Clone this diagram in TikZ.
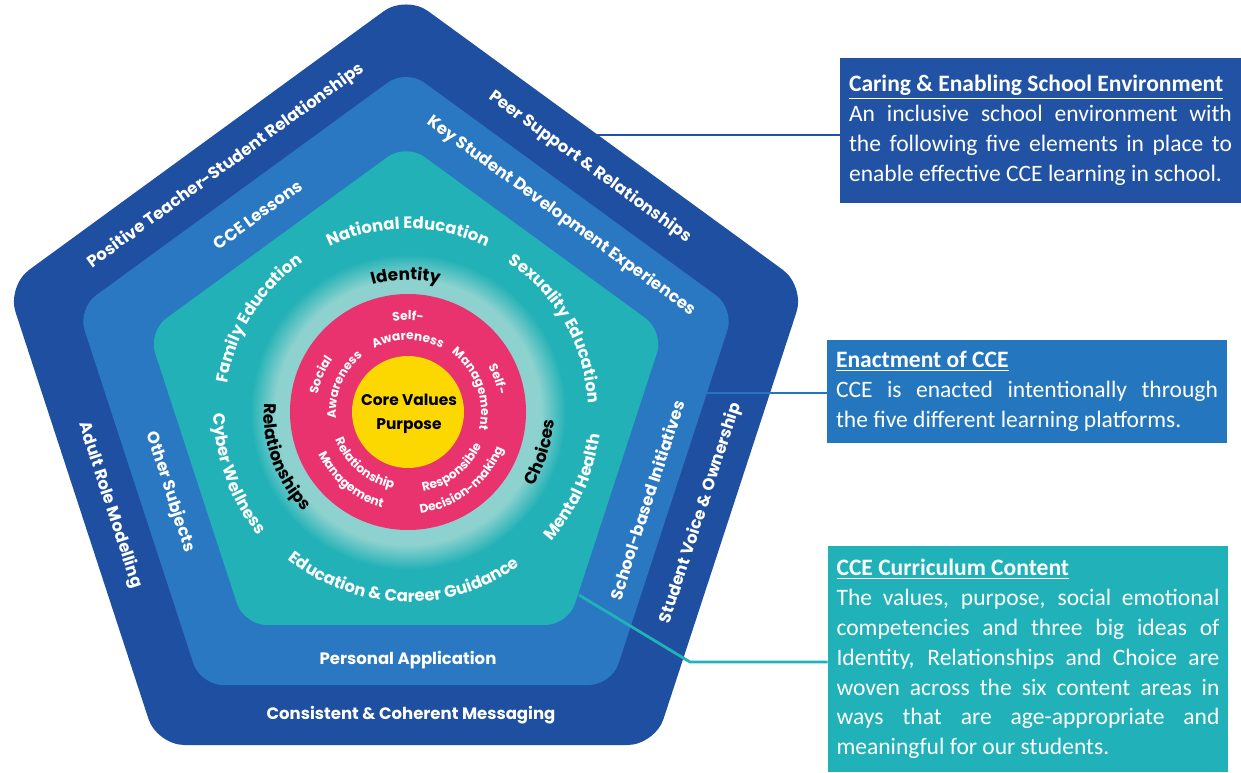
\documentclass[tikz,border=0pt]{standalone}
\usepackage{fontspec}
\setmainfont{Carlito}
\newfontfamily\gothic{Poppins}
\usetikzlibrary{calc,decorations.text}

\definecolor{navyband}{HTML}{1F4FA0}
\definecolor{blueband}{HTML}{2A78C1}
\definecolor{tealband}{HTML}{21B1B6}
\definecolor{mintdisc}{HTML}{8DD2CF}
\definecolor{pinkdisc}{HTML}{E8336E}
\definecolor{golddisc}{HTML}{FCD700}
\definecolor{navybox}{HTML}{2152A3}
\definecolor{bluebox}{HTML}{2477BF}
\definecolor{tealbox}{HTML}{20B2B8}

\pgfdeclareradialshading{mintglow}{\pgfpoint{0bp}{0bp}}{color(0bp)=(mintdisc); color(21bp)=(mintdisc); color(25bp)=(tealband); color(50bp)=(tealband)}

\newcommand\ringwhite{\gothic\bfseries\fontsize{9.4}{11}\selectfont\color{white}}
\newcommand\ringblack{\gothic\bfseries\fontsize{9.6}{11}\selectfont\color{black}}
\newcommand\selwhite{\gothic\bfseries\fontsize{7}{9}\selectfont\color{white}}

\tikzset{
  bandlabel/.style={text=white, inner sep=0pt, font=\gothic\bfseries\fontsize{9.4}{11}\selectfont},
  ringtext/.style={decorate, decoration={text along path, text align=center}},
  infobox/.style={text=white, align=justify, inner xsep=0.18cm, inner ysep=0pt,
    font=\fontsize{13.4}{17}\selectfont},
  tapline/.style={line width=1.6pt},
}

\begin{document}
\begin{tikzpicture}[x=0.02cm, y=0.02cm]
\useasboundingbox (0,0) rectangle (1241,772);

% pentagon layers
\fill[navyband, rounded corners=0.55cm] (406,27) -- (157,27) -- (7,486) -- (406,777) -- (805,486) -- (655,27) -- cycle;
\fill[blueband, rounded corners=0.45cm] (406,87) -- (200.5,87) -- (77.6,463.2) -- (406,702.7) -- (734.4,463.2) -- (611.5,87) -- cycle;
\fill[tealband, rounded corners=0.45cm] (406,147) -- (244,147) -- (148.1,440.4) -- (406,628.5) -- (663.9,440.4) -- (568,147) -- cycle;

% discs
\coordinate (ctr) at (408,360);
\shade[shading=mintglow] (ctr) circle[radius=158];
\fill[pinkdisc] (ctr) circle[radius=118];
\fill[golddisc] (ctr) circle[radius=56];

% outer band
\node[bandlabel, rotate=36] (ptsr) at (226,606) {Positive Teacher-Student Relationships};
\node[bandlabel, rotate=-36] (peer) at (590,605) {Peer Support \& Relationships};
\node[bandlabel, rotate=72] (voice) at (701,259) {Student Voice \& Ownership};
\node[bandlabel] (messaging) at (411,57) {Consistent \& Coherent Messaging};
\node[bandlabel, rotate=-72] (adult) at (110,267) {Adult Role Modelling};

% middle band
\node[bandlabel, rotate=36] (lessons) at (258,557) {CCE Lessons};
\node[bandlabel, rotate=-36] (ksde) at (561,556) {Key Student Development Experiences};
\node[bandlabel, rotate=72] (sbi) at (647,272) {School-based Initiatives};
\node[bandlabel] (application) at (408,112) {Personal Application};
\node[bandlabel, rotate=-72] (subjects) at (170,280) {Other Subjects};

% content areas
\path[ringtext, decoration={text={|\ringwhite|National Education}}] ($(ctr)+(150:183)$) arc[start angle=150, end angle=30, radius=183];
\path[ringtext, decoration={text={|\ringwhite|Sexuality Education}}] ($(ctr)+(89.5:180)$) arc[start angle=89.5, end angle=-30.5, radius=180];
\path[ringtext, decoration={text={|\ringwhite|Mental Health}}] ($(ctr)+(-84.5:193)$) arc[start angle=-84.5, end angle=35.5, radius=193];
\path[ringtext, decoration={text={|\ringwhite|Education {\&} Career Guidance}}] ($(ctr)+(203.5:190)$) arc[start angle=203.5, end angle=333.5, radius=190];
\path[ringtext, decoration={text={|\ringwhite|Cyber Wellness}}] ($(ctr)+(140:194)$) arc[start angle=140, end angle=260, radius=194];
\path[ringtext, decoration={text={|\ringwhite|Family Education}}] ($(ctr)+(208:183)$) arc[start angle=208, end angle=88, radius=183];

% big ideas
\path[ringtext, decoration={text={|\ringblack|Identity}}] ($(ctr)+(151:132)$) arc[start angle=151, end angle=31, radius=132];
\path[ringtext, decoration={text={|\ringblack|Relationships}}] ($(ctr)+(140:144)$) arc[start angle=140, end angle=260, radius=144];
\path[ringtext, decoration={text={|\ringblack|Choices}}] ($(ctr)+(-77:146)$) arc[start angle=-77, end angle=43, radius=146];

% competencies
\path[ringtext, decoration={text={|\selwhite|Self-}}] ($(ctr)+(150:92)$) arc[start angle=150, end angle=30, radius=92];
\path[ringtext, decoration={text={|\selwhite|Awareness}}] ($(ctr)+(160:72)$) arc[start angle=160, end angle=20, radius=72];
\path[ringtext, decoration={text={|\selwhite|Self-}}] ($(ctr)+(80:92)$) arc[start angle=80, end angle=-40, radius=92];
\path[ringtext, decoration={text={|\selwhite|Management}}] ($(ctr)+(90:73)$) arc[start angle=90, end angle=-50, radius=73];
\path[ringtext, decoration={text={|\selwhite|Social}}] ($(ctr)+(217:92)$) arc[start angle=217, end angle=97, radius=92];
\path[ringtext, decoration={text={|\selwhite|Awareness}}] ($(ctr)+(227:72)$) arc[start angle=227, end angle=87, radius=72];
\path[ringtext, decoration={text={|\selwhite|Relationship}}] ($(ctr)+(160:78)$) arc[start angle=160, end angle=300, radius=78];
\path[ringtext, decoration={text={|\selwhite|Management}}] ($(ctr)+(160:99)$) arc[start angle=160, end angle=300, radius=99];
\path[ringtext, decoration={text={|\selwhite|Responsible}}] ($(ctr)+(-122:81)$) arc[start angle=-122, end angle=18, radius=81];
\path[ringtext, decoration={text={|\selwhite|Decision-making}}] ($(ctr)+(-122:102)$) arc[start angle=-122, end angle=18, radius=102];

\node[font=\gothic\bfseries\fontsize{8.8}{13.6}\selectfont, align=center, inner sep=0pt] (core) at (409,358) {Core Values\\Purpose};

% text boxes
\node[infobox, fill=navybox, text width=7.66cm, minimum width=8.02cm, minimum height=2.9cm] (envbox) at (1040.5,641.5)
  {\parfillskip=0pt \textbf{\underline{Caring \& Enabling School Environment}}\\
   An inclusive school environment with\linebreak the following five elements in place to\linebreak enable effective CCE learning in school.};
\node[infobox, fill=bluebox, text width=7.64cm, minimum width=8cm, minimum height=2.06cm] (enactbox) at (1027,380.5)
  {\textbf{\underline{Enactment of CCE}}\\
   CCE is enacted intentionally through\linebreak the five different learning platforms.};
\node[infobox, fill=tealbox, inner xsep=0.17cm, text width=7.66cm, minimum width=8cm, minimum height=4.52cm] (contentbox) at (1028,113)
  {\textbf{\underline{CCE Curriculum Content}}\\
   The values, purpose, social emotional\linebreak competencies and three big ideas of\linebreak Identity, Relationships and Choice are\linebreak woven across the six content areas in\linebreak ways that are age-appropriate and\linebreak meaningful for our students.};

% connectors
\coordinate (envtap) at (597,637);
\coordinate (enacttap) at (707,379);
\coordinate (contenttap) at (579,177);
\coordinate (contentbend) at (690,110);
\draw[tapline, navybox] (envtap) -- (envtap -| envbox.west);
\draw[tapline, bluebox] (enacttap) -- (enacttap -| enactbox.west);
\draw[tapline, tealbox] (contenttap) -- (contentbend) -- (contentbend -| contentbox.west);

\end{tikzpicture}
\end{document}
